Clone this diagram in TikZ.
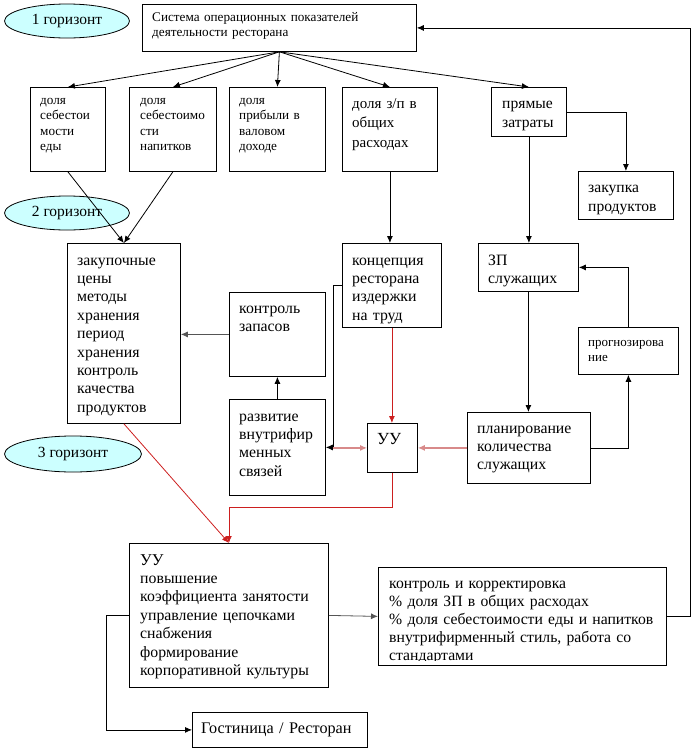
\documentclass[tikz,border=0pt]{standalone}
\usepackage{fontspec}
\setmainfont{Liberation Serif}
\usetikzlibrary{shapes.geometric, arrows.meta}
\definecolor{horfill}{HTML}{CCFFFF}
\definecolor{uured}{HTML}{CC1F1F}
\definecolor{uupink}{HTML}{D88A8A}
\definecolor{linkgray}{HTML}{555555}
\newcommand\sizeS{\fontsize{13.2}{15.5}\selectfont}
\newcommand\sizeP{\fontsize{13}{15}\selectfont}
\newcommand\sizeM{\fontsize{15.8}{18.4}\selectfont}
\newcommand\sizeW{\fontsize{15.6}{19.5}\selectfont}
\tikzset{
  box/.style={draw, line width=0.8pt, anchor=north west, inner sep=0pt},
  txt/.style={anchor=base west, align=left, inner sep=0pt, text width=#1, font=\sizeM},
  horiz/.style={ellipse, draw, fill=horfill, line width=0.8pt, minimum width=125pt,
    minimum height=34pt, inner sep=0pt, font=\fontsize{15.5}{18}\selectfont},
  link/.style={->, line width=0.8pt},
  redlink/.style={->, line width=0.8pt, uured},
}
\begin{document}
\begin{tikzpicture}[x=1pt, y=-1pt, >={Latex[length=7pt,width=6pt]}]
\useasboundingbox (0,0) rectangle (693,750);
% horizons
\node[horiz] (h1) at (67,21) {1 горизонт};
\node[horiz] (h2) at (67,213) {2 горизонт};
\node[horiz, minimum width=137pt, minimum height=36pt] (h3) at (73,454) {3 горизонт};

% level 1
\node[box, minimum width=274pt, minimum height=47pt] (sys) at (142,4) {};
\node[txt=260pt, font=\sizeS] (sys-t) at ([shift={(10,17)}]sys.north west)
  {Система операционных показателей\\деятельности ресторана};

% indicators
\node[box, minimum width=75pt, minimum height=84pt] (sebeda) at (30,87) {};
\node[txt=65pt, font=\sizeS] (sebeda-t) at ([shift={(10,17)}]sebeda.north west) {доля\\себестои\\мости\\еды};
\node[box, minimum width=87pt, minimum height=84pt] (sebnap) at (129,87) {};
\node[txt=75pt, font=\sizeS] (sebnap-t) at ([shift={(11,17)}]sebnap.north west) {доля\\себестоимо\\сти\\напитков};
\node[box, minimum width=96pt, minimum height=84pt] (pribyl) at (229,87) {};
\node[txt=85pt, font=\sizeS] (pribyl-t) at ([shift={(10,17)}]pribyl.north west) {доля\\прибыли в\\валовом\\доходе};
\node[box, minimum width=95pt, minimum height=84pt] (dolyazp) at (342,87) {};
\node[txt=85pt, font=\fontsize{15}{19.5}\selectfont] (dolyazp-t) at ([shift={(10,21)}]dolyazp.north west) {доля з/п в\\общих\\расходах};
\node[box, minimum width=75pt, minimum height=49pt] (pryamye) at (491,87) {};
\node[txt=64pt, font=\sizeW] (pryamye-t) at ([shift={(11,21)}]pryamye.north west) {прямые\\затраты};
\node[box, minimum width=95pt, minimum height=48pt] (zakupka) at (578,171) {};
\node[txt=85pt, font=\sizeW] (zakupka-t) at ([shift={(10,21)}]zakupka.north west) {закупка\\продуктов};

% level 2
\node[box, minimum width=113pt, minimum height=180pt] (zakupcen) at (67,243) {};
\node[txt=100pt] (zakupcen-t) at ([shift={(10,22)}]zakupcen.north west)
  {закупочные\\цены\\методы\\хранения\\период\\хранения\\контроль\\качества\\продуктов};
\node[box, minimum width=99pt, minimum height=84pt] (koncep) at (342,243) {};
\node[txt=89pt] (koncep-t) at ([shift={(10,22)}]koncep.north west) {концепция\\ресторана\\издержки\\на труд};
\node[box, minimum width=100pt, minimum height=48pt] (zp) at (478,243) {};
\node[txt=90pt] (zp-t) at ([shift={(10,22)}]zp.north west) {ЗП\\служащих};
\node[box, minimum width=96pt, minimum height=84pt] (kontrzap) at (229,292) {};
\node[txt=86pt] (kontrzap-t) at ([shift={(10,21)}]kontrzap.north west) {контроль\\запасов};
\node[box, minimum width=100pt, minimum height=47pt] (prognoz) at (578,327) {};
\node[txt=90pt, font=\sizeP] (prognoz-t) at ([shift={(10,19)}]prognoz.north west) {прогнозирова\\ние};
\node[box, minimum width=96pt, minimum height=96pt] (razvitie) at (229,399) {};
\node[txt=86pt] (razvitie-t) at ([shift={(10,22)}]razvitie.north west) {развитие\\внутрифир\\менных\\связей};
\node[box, minimum width=123pt, minimum height=71pt] (plan) at (467,412) {};
\node[txt=110pt] (plan-t) at ([shift={(10,21)}]plan.north west) {планирование\\количества\\служащих};
\node[box, minimum width=50pt, minimum height=49pt] (uu) at (367,423) {};
\node[txt=40pt, font=\fontsize{17}{20}\selectfont] (uu-t) at ([shift={(10,21)}]uu.north west) {УУ};

% level 3
\node[box, minimum width=199pt, minimum height=144pt] (bigUU) at (129,543) {};
\node[txt=185pt] (bigUU-t) at ([shift={(11,22)}]bigUU.north west)
  {{\fontsize{16.5}{19}\selectfont УУ}\\повышение\\коэффициента занятости\\управление цепочками\\снабжения\\формирование\\корпоративной культуры};
\node[box, minimum width=288pt, minimum height=98pt] (kontrol) at (378,567) {};
\begin{scope}
\clip (kontrol.north west) rectangle ([yshift=5pt]kontrol.south east);
\node[txt=275pt, font=\fontsize{15.7}{18}\selectfont] (kontrol-t) at ([shift={(11,21)}]kontrol.north west)
  {контроль и корректировка\\\% доля ЗП в общих расходах\\\% доля себестоимости еды и напитков\\внутрифирменный стиль, работа со\\стандартами};
\end{scope}
\node[box, minimum width=175pt, minimum height=35pt] (gost) at (192,712) {};
\node[txt=165pt, font=\fontsize{16.2}{20}\selectfont] (gost-t) at ([shift={(9,21)}]gost.north west) {Гостиница / Ресторан};

% connectors
\foreach \n in {sebeda,sebnap,pribyl,dolyazp,pryamye}
  \draw[link] (sys.south) -- (\n.north);
\draw[link] (sebeda.south) -- (zakupcen.north);
\draw[link] (sebnap.south) -- (zakupcen.north);
\draw[link] (dolyazp.south) -- (dolyazp.south |- koncep.north);
\draw[link] (pryamye.south) -- (pryamye.south |- zp.north);
\draw[link] (pryamye.east) -| (zakupka.north);
\draw[link] (zp.south) -- (zp.south |- plan.north);
\draw[link] (plan.east) -| (prognoz.south);
\draw[link] (prognoz.north) |- (zp.east);
\draw[link, linkgray] (kontrzap.west) -- (kontrzap.west -| zakupcen.east);
\draw[link] (razvitie.north) -- (razvitie.north |- kontrzap.south);
\coordinate (kbend) at ([xshift=-9pt]koncep.west);
\draw[link] (koncep.west) -- (kbend) |- (razvitie.east);
\draw[redlink, uupink, line width=1.2pt] (kbend |- uu.west) -- (uu.west);
\draw[redlink, uupink, line width=1.2pt] (plan.west) -- (uu.east);
\draw[redlink] (koncep.south) -- (koncep.south |- uu.north);
\draw[redlink] (zakupcen.south) -- (bigUU.north);
\draw[redlink] (uu.south) -- ++(0,35) -| (bigUU.north);
\draw[link, linkgray] (bigUU.east) -- (kontrol.west);
\draw[link] (bigUU.west) -- ++(-23,0) |- (gost.west);
\draw[link] (kontrol.east) -- ++(24,0) |- (sys.east);
\end{tikzpicture}
\end{document}
